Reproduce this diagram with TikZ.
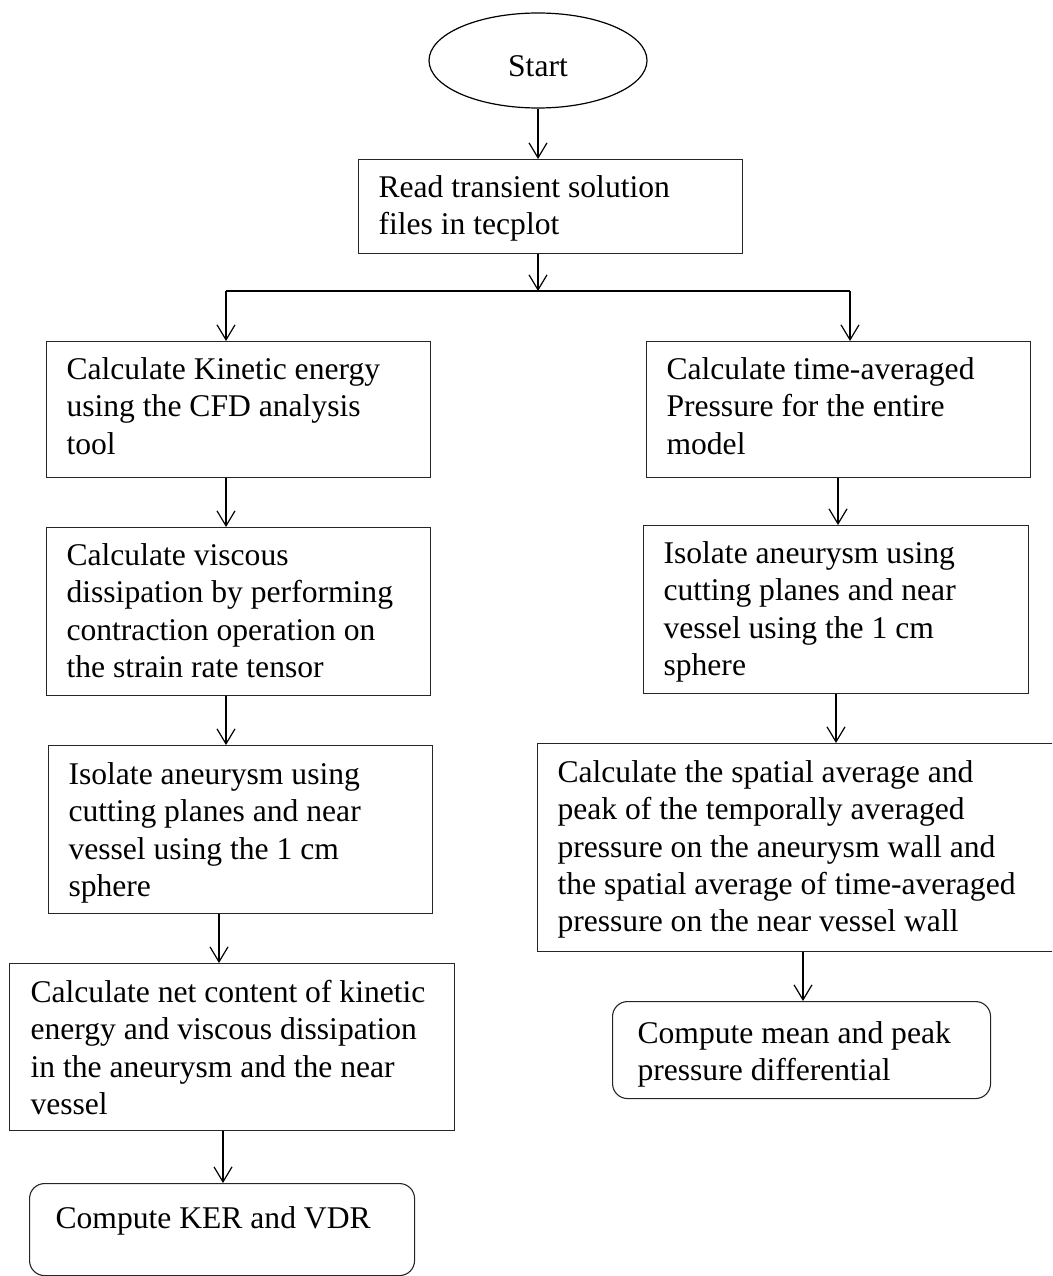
\documentclass[tikz,border=0pt]{standalone}
\usepackage{fontspec}
\setmainfont{Liberation Serif}
\usetikzlibrary{arrows.meta,shapes.geometric}
\newcommand\diafont{\fontsize{31.6pt}{37.3pt}\selectfont}
\newcommand\bt[4]{\parbox[c][#2][t]{#1}{\raggedright\rule{0pt}{#3}#4}}
\begin{document}
\begin{tikzpicture}[x=1pt,y=-1pt,
  box/.style={draw=black!85, line width=1.1pt, rectangle, inner xsep=20pt, inner ysep=0pt, anchor=north west, font=\diafont},
  rbox/.style={box, rounded corners=15pt},
  arr/.style={line width=1.2pt, -{Straight Barb[length=15pt,width=18pt]}},
  conn/.style={line width=1.2pt}]
\clip (0,0) rectangle (1052,1276);

% start
\node[ellipse, draw=black, line width=1.2pt, minimum width=218pt, minimum height=95pt, inner sep=0pt, font=\diafont, text height=33pt, text depth=0pt] (start) at (538,60.5) {Start};

% boxes
\node[box] (read) at (358,159) {\bt{344pt}{94pt}{38pt}{\mbox{Read transient solution}\\\mbox{files in tecplot}}};

\node[box] (b1) at (46,341) {\bt{344pt}{136pt}{38pt}{\mbox{Calculate Kinetic energy}\\\mbox{using the CFD analysis}\\\mbox{tool}}};
\node[box] (b2) at (46,527) {\bt{344pt}{168pt}{38pt}{\mbox{Calculate viscous}\\\mbox{dissipation by performing}\\\mbox{contraction operation on}\\\mbox{the strain rate tensor}}};
\node[box] (b3) at (48,745) {\bt{344pt}{168pt}{39pt}{\mbox{Isolate aneurysm using}\\\mbox{cutting planes and near}\\\mbox{vessel using the 1 cm}\\\mbox{sphere}}};
\node[box, inner xsep=21pt] (b4) at (9,963) {\bt{403pt}{167pt}{39pt}{\mbox{Calculate net content of kinetic}\\\mbox{energy and viscous dissipation}\\\mbox{in the aneurysm and the near}\\\mbox{vessel}}};
\node[rbox, inner xsep=26pt] (kv) at (29,1183) {\bt{333pt}{92pt}{45pt}{\mbox{Compute KER and VDR}}};

\node[box] (r1) at (646,341) {\bt{344pt}{136pt}{38pt}{\mbox{Calculate time-averaged}\\\mbox{Pressure for the entire}\\\mbox{model}}};
\node[box] (r2) at (643,525) {\bt{345pt}{168pt}{38pt}{\mbox{Isolate aneurysm using}\\\mbox{cutting planes and near}\\\mbox{vessel using the 1 cm}\\\mbox{sphere}}};
\node[box] (r3) at (537,743) {\bt{480pt}{208pt}{39pt}{\mbox{Calculate the spatial average and}\\\mbox{peak of the temporally averaged}\\\mbox{pressure on the aneurysm wall and}\\\mbox{the spatial average of time-averaged}\\\mbox{pressure on the near vessel wall}}};
\node[rbox, inner xsep=25pt] (pd) at (612,1001) {\bt{328pt}{97pt}{42pt}{\mbox{Compute mean and peak}\\\mbox{pressure differential}}};

% helper coordinates
\coordinate (jm) at (538,291);
\coordinate (jl) at (226,291);
\coordinate (jr) at (850,291);
\coordinate (xl) at (226,0);
\coordinate (xl2) at (219,0);
\coordinate (xl3) at (223,0);
\coordinate (xr) at (838,0);
\coordinate (xr2) at (836,0);
\coordinate (xr3) at (803,0);

% connectors
\draw[arr] (start.south) -- (start.south |- read.north);
\draw[arr] (read.south -| jm) -- (jm);
\draw[conn] (jl) -- (jr);
\draw[arr] (jl) -- (jl |- b1.north);
\draw[arr] (jr) -- (jr |- r1.north);
\draw[arr] (b1.south -| xl) -- (b2.north -| xl);
\draw[arr] (b2.south -| xl) -- (b3.north -| xl);
\draw[arr] (b3.south -| xl2) -- (b4.north -| xl2);
\draw[arr] (b4.south -| xl3) -- (kv.north -| xl3);
\draw[arr] (r1.south -| xr) -- (r2.north -| xr);
\draw[arr] (r2.south -| xr2) -- (r3.north -| xr2);
\draw[arr] (r3.south -| xr3) -- (pd.north -| xr3);
\end{tikzpicture}
\end{document}
